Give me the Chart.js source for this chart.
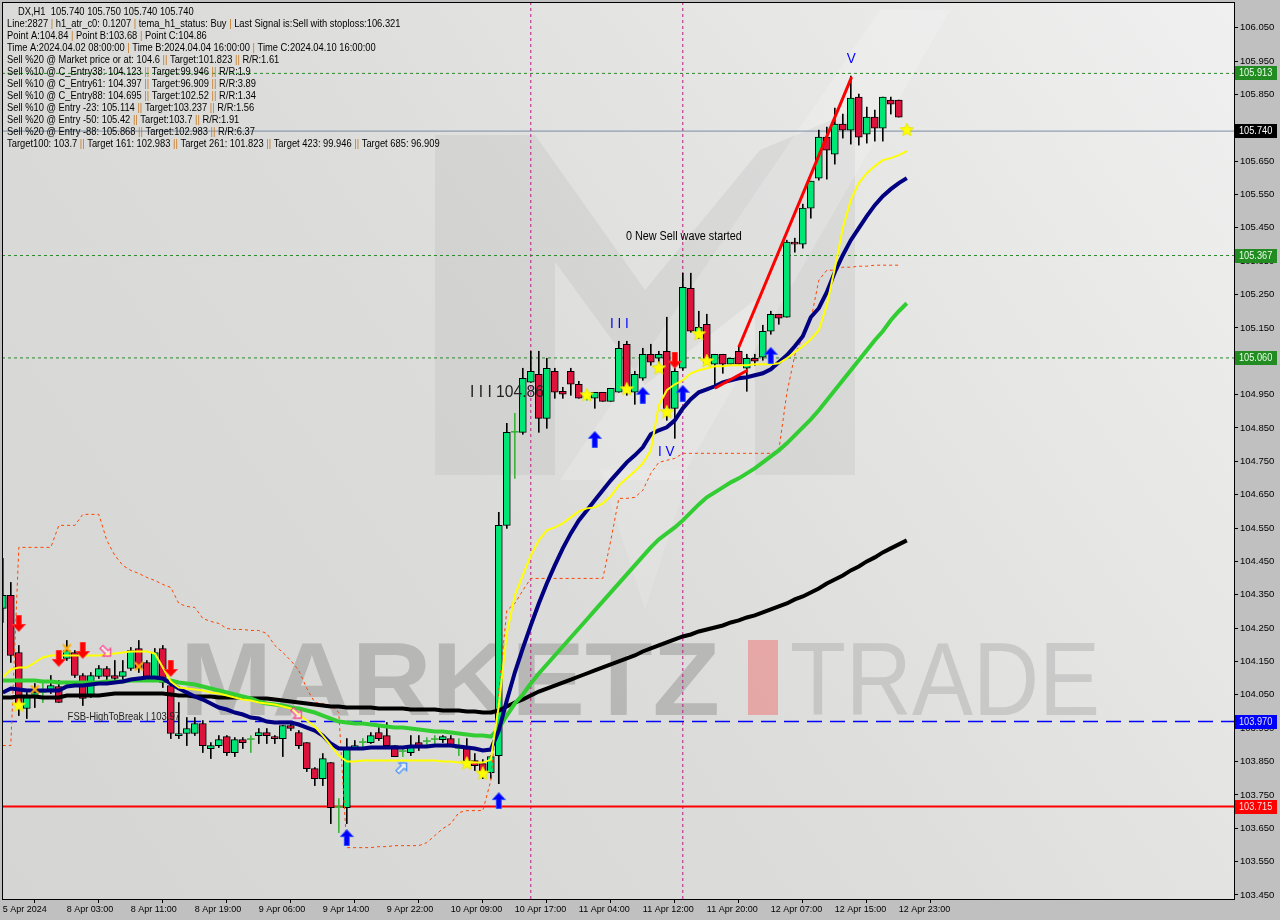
<!DOCTYPE html>
<html>
<head>
<meta charset="utf-8">
<title>DX,H1</title>
<script src="https://cdn.jsdelivr.net/npm/chart.js@4.4.1/dist/chart.umd.min.js"></script>
<style>
  html, body { margin: 0; padding: 0; background: #c0c0c0; }
  canvas { display: block; }
</style>
</head>
<body>
<canvas id="chart" width="1280" height="920"></canvas>
<script>
const FONT = "'Liberation Sans', Arial, sans-serif";

// time axis: one slot per H1 bar, labels every 8 bars
const timeTicks = [0, 8, 16, 24, 32, 40, 48, 56, 64, 72, 80, 88, 96, 104, 112];
const timeLabels = ['5 Apr 2024', '8 Apr 03:00', '8 Apr 11:00', '8 Apr 19:00', '9 Apr 06:00', '9 Apr 14:00',
  '9 Apr 22:00', '10 Apr 09:00', '10 Apr 17:00', '11 Apr 04:00', '11 Apr 12:00', '11 Apr 20:00',
  '12 Apr 07:00', '12 Apr 15:00', '12 Apr 23:00'];
const priceTicks = [103.45, 103.55, 103.65, 103.75, 103.85, 103.95, 104.05, 104.15, 104.25, 104.35, 104.45,
  104.55, 104.65, 104.75, 104.85, 104.95, 105.05, 105.15, 105.25, 105.35, 105.45, 105.55, 105.65, 105.75,
  105.85, 105.95, 106.05];

const opens = [104.309, 104.348, 104.177, 104.009, 104.048, 104.057, 104.066, 104.075, 104.159, 104.177,
  104.108, 104.048, 104.105, 104.129, 104.108, 104.105, 104.129, 104.189, 104.147, 104.102,
  104.189, 104.078, 103.928, 103.934, 103.934, 103.964, 103.889, 103.898, 103.925, 103.877,
  103.916, 103.916, 103.928, 103.937, 103.925, 103.919, 103.958, 103.937, 103.907, 103.829,
  103.799, 103.847, 103.712, 103.712, 103.892, 103.907, 103.907, 103.937, 103.928, 103.898,
  103.880, 103.877, 103.907, 103.910, 103.916, 103.916, 103.919, 103.889, 103.889, 103.853,
  103.844, 103.817, 103.868, 104.558, 104.837, 104.837, 104.987, 105.011, 104.879, 105.020,
  104.960, 105.020, 104.981, 104.942, 104.939, 104.957, 104.930, 104.957, 105.101, 104.957,
  104.999, 105.071, 105.059, 105.080, 104.909, 105.029, 105.269, 105.134, 105.161, 105.041,
  105.071, 105.041, 105.080, 105.029, 105.059, 105.062, 105.140, 105.191, 105.182, 105.407,
  105.401, 105.509, 105.599, 105.722, 105.671, 105.761, 105.743, 105.842, 105.731, 105.782,
  105.749, 105.833, 105.833, 105.740];
const highs = [104.459, 104.387, 104.198, 104.057, 104.084, 104.084, 104.108, 104.093, 104.213, 104.183,
  104.114, 104.117, 104.138, 104.135, 104.153, 104.153, 104.192, 104.213, 104.153, 104.189,
  104.198, 104.084, 104.027, 103.982, 103.982, 103.973, 103.907, 103.928, 103.928, 103.922,
  103.922, 103.928, 103.949, 103.949, 103.928, 103.958, 103.967, 103.943, 103.907, 103.832,
  103.874, 103.847, 103.739, 103.919, 103.913, 103.919, 103.937, 103.952, 103.967, 103.898,
  103.895, 103.928, 103.928, 103.922, 103.928, 103.928, 103.928, 103.919, 103.919, 103.874,
  103.856, 103.868, 104.597, 104.864, 104.894, 105.029, 105.080, 105.080, 105.059, 105.029,
  104.972, 105.029, 104.990, 104.948, 104.957, 104.957, 104.969, 105.110, 105.110, 105.020,
  105.089, 105.101, 105.080, 105.182, 105.029, 105.314, 105.314, 105.200, 105.191, 105.071,
  105.071, 105.059, 105.092, 105.071, 105.071, 105.158, 105.200, 105.191, 105.413, 105.419,
  105.521, 105.590, 105.743, 105.752, 105.809, 105.791, 105.905, 105.851, 105.812, 105.803,
  105.842, 105.842, 105.833, 105.750];
const lows = [104.267, 104.147, 103.988, 103.979, 104.012, 104.027, 104.054, 104.027, 104.153, 104.102,
  104.018, 104.042, 104.099, 104.093, 104.087, 104.093, 104.123, 104.117, 104.102, 104.093,
  104.072, 103.919, 103.919, 103.898, 103.928, 103.877, 103.859, 103.892, 103.868, 103.865,
  103.889, 103.877, 103.904, 103.904, 103.904, 103.865, 103.943, 103.889, 103.820, 103.778,
  103.778, 103.664, 103.637, 103.664, 103.889, 103.892, 103.904, 103.913, 103.892, 103.865,
  103.865, 103.868, 103.883, 103.898, 103.904, 103.907, 103.895, 103.868, 103.838, 103.823,
  103.799, 103.799, 103.784, 104.549, 104.699, 104.831, 104.987, 104.837, 104.849, 104.939,
  104.939, 104.948, 104.939, 104.933, 104.909, 104.930, 104.930, 104.957, 104.948, 104.921,
  104.993, 105.038, 105.029, 104.873, 104.819, 105.023, 105.137, 105.119, 105.044, 104.972,
  105.014, 105.041, 105.041, 104.960, 105.038, 105.053, 105.131, 105.161, 105.182, 105.377,
  105.389, 105.479, 105.593, 105.596, 105.641, 105.719, 105.701, 105.698, 105.704, 105.710,
  105.710, 105.791, 105.782, 105.740];
const closes = [104.348, 104.168, 104.018, 104.042, 104.057, 104.057, 104.078, 104.027, 104.183, 104.108,
  104.039, 104.108, 104.129, 104.105, 104.099, 104.120, 104.183, 104.129, 104.105, 104.177,
  104.087, 103.934, 103.934, 103.949, 103.964, 103.898, 103.898, 103.916, 103.877, 103.916,
  103.907, 103.916, 103.937, 103.928, 103.919, 103.958, 103.949, 103.898, 103.829, 103.799,
  103.859, 103.712, 103.712, 103.889, 103.898, 103.907, 103.928, 103.919, 103.898, 103.865,
  103.880, 103.895, 103.895, 103.910, 103.916, 103.925, 103.901, 103.889, 103.853, 103.838,
  103.820, 103.865, 104.558, 104.837, 104.837, 104.999, 105.020, 104.879, 105.029, 104.957,
  104.951, 104.981, 104.939, 104.942, 104.957, 104.930, 104.969, 105.089, 104.969, 105.011,
  105.071, 105.047, 105.071, 104.909, 105.020, 105.272, 105.140, 105.152, 105.044, 105.071,
  105.041, 105.059, 105.041, 105.059, 105.050, 105.140, 105.191, 105.179, 105.407, 105.401,
  105.509, 105.590, 105.722, 105.683, 105.761, 105.743, 105.839, 105.722, 105.782, 105.749,
  105.842, 105.821, 105.782, 105.740];

// moving averages / bands
const fastLine = [104.102, 104.126, 104.132, 104.132, 104.147, 104.162,
  104.168, 104.168, 104.168, 104.168, 104.168, 104.168, 104.168,
  104.171, 104.174, 104.177, 104.180, 104.180, 104.180,
  104.174, 104.132, 104.090, 104.072, 104.069, 104.066, 104.063, 104.057, 104.054, 104.048,
  104.042, 104.036, 104.033, 104.027, 104.024, 104.021, 104.015, 104.009, 103.991, 103.973,
  103.955, 103.928, 103.898, 103.868, 103.850, 103.850,
  103.853, 103.853, 103.853, 103.853, 103.853, 103.853, 103.853, 103.853, 103.853, 103.853,
  103.850, 103.850, 103.847, 103.847, 103.847, 103.847,
  103.856, 104.018, 104.234, 104.348, 104.408, 104.468, 104.513, 104.543, 104.552, 104.564,
  104.582, 104.600, 104.609, 104.612, 104.624, 104.645, 104.678, 104.699, 104.720, 104.744,
  104.783, 104.918, 104.963, 104.981, 104.993, 105.014, 105.023, 105.029,
  105.035, 105.035, 105.038, 105.038, 105.038, 105.041, 105.041, 105.041,
  105.044, 105.059, 105.077, 105.095, 105.116, 105.143, 105.218, 105.329, 105.449, 105.533,
  105.584, 105.614, 105.635, 105.653, 105.659, 105.668, 105.680];
const midLine = [104.057, 104.069, 104.066, 104.063, 104.063, 104.063, 104.063, 104.063,
  104.075, 104.078, 104.078, 104.081, 104.084, 104.084, 104.087, 104.090, 104.096, 104.099,
  104.102, 104.102, 104.099, 104.084, 104.069, 104.057, 104.045, 104.036, 104.024, 104.012,
  104.006, 103.997, 103.991, 103.982, 103.979, 103.970, 103.967, 103.967, 103.967,
  103.961, 103.952, 103.943, 103.928, 103.904, 103.889, 103.889, 103.889, 103.889,
  103.892, 103.892, 103.892, 103.892, 103.892, 103.895, 103.895, 103.895, 103.898, 103.898, 103.898,
  103.895, 103.892, 103.889, 103.883, 103.886, 103.943, 104.033, 104.117, 104.189, 104.258,
  104.324, 104.384, 104.438, 104.489, 104.534, 104.573, 104.603, 104.633, 104.663, 104.693,
  104.720, 104.747, 104.768, 104.792, 104.831, 104.843, 104.852, 104.873, 104.909, 104.936,
  104.957, 104.966, 104.975, 104.987, 104.993, 104.999, 105.002, 105.008, 105.014, 105.026,
  105.047, 105.068, 105.095, 105.125, 105.182, 105.209, 105.257, 105.317, 105.368, 105.413,
  105.449, 105.485, 105.518, 105.545, 105.566, 105.584, 105.599];
const slowLine = [104.093, 104.093, 104.093, 104.093, 104.093, 104.090, 104.090,
  104.087, 104.087, 104.087, 104.087, 104.087, 104.087, 104.090, 104.090, 104.090,
  104.093, 104.093, 104.093, 104.093, 104.093, 104.093,
  104.087, 104.084, 104.081, 104.075, 104.069, 104.063, 104.057, 104.051, 104.045, 104.039,
  104.030, 104.024, 104.021, 104.018, 104.012, 104.009, 104.003, 103.997, 103.988, 103.979,
  103.970, 103.967, 103.964, 103.964, 103.961, 103.958, 103.955, 103.952, 103.952,
  103.949, 103.946, 103.943, 103.940, 103.940, 103.937, 103.934, 103.931, 103.928, 103.928,
  103.925, 103.949, 103.988, 104.024, 104.051, 104.084, 104.114, 104.141, 104.168, 104.195,
  104.222, 104.249, 104.276, 104.303, 104.330, 104.357, 104.384, 104.411, 104.438, 104.465,
  104.492, 104.516, 104.534, 104.552, 104.573, 104.597, 104.621, 104.642, 104.657, 104.672,
  104.687, 104.699, 104.714, 104.729, 104.747, 104.765, 104.783, 104.804, 104.828, 104.852,
  104.876, 104.903, 104.933, 104.963, 104.993, 105.023, 105.053, 105.083, 105.113, 105.140,
  105.173, 105.200, 105.224];
const longLine = [104.042, 104.042, 104.045, 104.045, 104.045, 104.042, 104.042, 104.042,
  104.048, 104.048, 104.048, 104.048, 104.048, 104.051,
  104.054, 104.054, 104.054, 104.054, 104.054, 104.054, 104.054,
  104.051, 104.048, 104.048, 104.045, 104.045, 104.045, 104.042, 104.042, 104.042, 104.042,
  104.039, 104.039, 104.039, 104.036, 104.033, 104.030, 104.027, 104.024, 104.021, 104.018,
  104.015, 104.015, 104.012, 104.012, 104.012, 104.012, 104.009, 104.009, 104.009, 104.009,
  104.006, 104.006, 104.006, 104.006, 104.003, 104.003, 104.003, 104.000, 104.000, 103.997, 103.997,
  104.003, 104.015, 104.027, 104.036, 104.048, 104.060, 104.069, 104.078, 104.087, 104.096,
  104.105, 104.114, 104.123, 104.132, 104.141, 104.150, 104.159, 104.168, 104.180, 104.189,
  104.198, 104.207, 104.216, 104.225, 104.231, 104.240, 104.246, 104.252, 104.258, 104.267,
  104.273, 104.282, 104.288, 104.297, 104.306, 104.315, 104.324, 104.336, 104.345, 104.357,
  104.369, 104.384, 104.396, 104.408, 104.423, 104.435, 104.450, 104.462, 104.477, 104.489,
  104.501, 104.513];
const stopLine = [103.898, 103.898, 104.492, 104.492, 104.492, 104.492, 104.492,
  104.558, 104.558, 104.558, 104.591, 104.591, 104.591,
  104.513, 104.468, 104.438, 104.423, 104.414, 104.402, 104.393, 104.381, 104.372, 104.324,
  104.315, 104.312, 104.279, 104.270, 104.264, 104.249, 104.246, 104.246, 104.243, 104.243,
  104.234, 104.198, 104.177, 104.153, 104.123, 104.069, 104.027, 104.024, 104.018, 103.997,
  103.592, 103.592, 103.592, 103.592, 103.595, 103.595, 103.598, 103.598, 103.598, 103.598,
  103.607, 103.628, 103.649, 103.664, 103.697, 103.703, 103.703, 103.703,
  103.793, 104.063, 104.303, 104.324, 104.363,
  104.399, 104.399, 104.399, 104.399, 104.399, 104.399, 104.399, 104.399, 104.399, 104.399,
  104.513, 104.639, 104.639, 104.642, 104.663, 104.714, 104.747, 104.753, 104.759,
  104.774, 104.774, 104.774, 104.774, 104.774, 104.774, 104.774, 104.774, 104.774, 104.774, 104.774, 104.774,
  104.783, 104.954, 105.068, 105.122, 105.173, 105.293, 105.323, 105.323, 105.332, 105.332,
  105.335, 105.335, 105.338, 105.338, 105.338, 105.338, null];

// zigzag legs
const legStartIdx = [92, 89];
const legEndIdx = [106.1, 93.1];
const legStartPrice = [105.092, 104.969];
const legEndPrice = [105.902, 105.023];

// horizontal levels and session separators
const levelPrices = [105.913, 105.367, 105.060, 105.740, 103.970, 103.715];
const sessionIdx = [66, 85];

// signal markers
const buyIdx = [43, 62, 74, 80, 85, 96];
const buyPrice = [103.622, 103.733, 104.816, 104.948, 104.954, 105.068];
const sellIdx = [2, 7, 10, 21, 84];
const sellPrice = [104.264, 104.159, 104.183, 104.129, 105.053];
const starIdx = [2, 58, 60, 73, 78, 82, 83, 87, 88, 113];
const starPrice = [104.018, 103.844, 103.814, 104.948, 104.966, 105.029, 104.897, 105.131, 105.050, 105.743];
const crossIdx = [4, 8, 17];
const crossPrice = [104.066, 104.189, 104.135];
const hintDownIdx = [12.9, 36.75];
const hintDownPrice = [104.180, 103.994];
const hintUpIdx = [49.9];
const hintUpPrice = [103.832];

// text notes on the chart
const noteText = ['0 New Sell wave started', 'I I I 104.86', 'I I I', 'I V', 'V', 'FSB-HighToBreak | 103.97'];
const noteIdx = [77.9, 58.4, 75.9, 81.9, 105.5, 8.1];
const notePrice = [105.422, 104.957, 105.161, 104.777, 105.956, 103.985];

const headerLines = [
  'DX,H1  105.740 105.750 105.740 105.740',
  'Line:2827 | h1_atr_c0: 0.1207 | tema_h1_status: Buy | Last Signal is:Sell with stoploss:106.321',
  'Point A:104.84 | Point B:103.68 | Point C:104.86',
  'Time A:2024.04.02 08:00:00 | Time B:2024.04.04 16:00:00 | Time C:2024.04.10 16:00:00',
  'Sell %20 @ Market price or at: 104.6 || Target:101.823 || R/R:1.61',
  'Sell %10 @ C_Entry38: 104.123 || Target:99.946 || R/R:1.9',
  'Sell %10 @ C_Entry61: 104.397 || Target:96.909 || R/R:3.89',
  'Sell %10 @ C_Entry88: 104.695 || Target:102.52 || R/R:1.34',
  'Sell %10 @ Entry -23: 105.114 || Target:103.237 || R/R:1.56',
  'Sell %20 @ Entry -50: 105.42 || Target:103.7 || R/R:1.91',
  'Sell %20 @ Entry -88: 105.868 || Target:102.983 || R/R:6.37',
  'Target100: 103.7 || Target 161: 102.983 || Target 261: 101.823 || Target 423: 99.946 || Target 685: 96.909'
];

const X_MIN = -0.1, X_MAX = 153.9, Y_MIN = 103.438, Y_MAX = 106.127;
const BULL = '#00e676', BEAR = '#dc143c', DOJI = '#3cb43c';

const levelStyle = [
  { color: '#2a8a2a', width: 1, dash: [3, 3], tag: '#228b22', text: '#e8ffe8' },
  { color: '#2a8a2a', width: 1, dash: [3, 3], tag: '#228b22', text: '#e8ffe8' },
  { color: '#2a8a2a', width: 1, dash: [3, 3], tag: '#228b22', text: '#e8ffe8' },
  { color: '#7b8ba3', width: 1, dash: [], tag: '#000000', text: '#ffffff' },
  { color: '#0000ff', width: 1.5, dash: [15, 8], tag: '#0000ff', text: '#e0e0ff' },
  { color: '#ff0000', width: 2, dash: [], tag: '#ff0000', text: '#ffe0e0' }
];
const noteStyle = [
  { color: '#000', size: 12, sx: 0.9 }, { color: '#222', size: 17, sx: 0.92 }, { color: '#0000ff', size: 15, sx: 0.9 },
  { color: '#0000ff', size: 15, sx: 0.9 }, { color: '#0000ff', size: 15, sx: 0.9 }, { color: '#222', size: 11, sx: 0.86 }
];

const pts = arr => arr.map((v, i) => ({ x: i, y: v }));
const pairs = (xs, ys) => xs.map((x, i) => ({ x: x, y: ys[i] }));

function makeArrow(fill, edge, down) {
  const c = document.createElement('canvas');
  c.width = 14; c.height = 17;
  const g = c.getContext('2d');
  const shape = [[7, 0.5], [13.5, 7.5], [9.5, 7.5], [9.5, 16.5], [4.5, 16.5], [4.5, 7.5], [0.5, 7.5]];
  g.beginPath();
  shape.forEach(([x, y], k) => {
    const yy = down ? 17 - y : y;
    if (k) g.lineTo(x, yy); else g.moveTo(x, yy);
  });
  g.closePath();
  g.fillStyle = fill; g.fill();
  g.strokeStyle = edge; g.lineWidth = 1; g.stroke();
  return c;
}

function makeHollowArrow(edge) {
  const c = document.createElement('canvas');
  c.width = 16; c.height = 16;
  const g = c.getContext('2d');
  const shape = [[8, 1.5], [13.5, 7], [10, 7], [10, 14.5], [6, 14.5], [6, 7], [2.5, 7]];
  g.beginPath();
  shape.forEach(([x, y], k) => { if (k) g.lineTo(x, y); else g.moveTo(x, y); });
  g.closePath();
  g.fillStyle = 'rgba(255,255,255,0.5)'; g.fill();
  g.strokeStyle = edge; g.lineWidth = 1.2; g.stroke();
  return c;
}

function makeStar(r) {
  const c = document.createElement('canvas');
  c.width = c.height = 2 * r + 2;
  const g = c.getContext('2d');
  g.beginPath();
  for (let k = 0; k < 10; k++) {
    const rr = k % 2 ? r * 0.45 : r;
    const a = -Math.PI / 2 + k * Math.PI / 5;
    const x = r + 1 + rr * Math.cos(a), y = r + 1 + rr * Math.sin(a);
    if (k) g.lineTo(x, y); else g.moveTo(x, y);
  }
  g.closePath();
  g.fillStyle = '#ffff00'; g.fill();
  g.strokeStyle = '#e8e800'; g.stroke();
  return c;
}

function makeCross() {
  const c = document.createElement('canvas');
  c.width = c.height = 10;
  const g = c.getContext('2d');
  g.strokeStyle = '#ffb000'; g.lineWidth = 2;
  g.beginPath(); g.moveTo(1, 1); g.lineTo(9, 9); g.moveTo(9, 1); g.lineTo(1, 9); g.stroke();
  return c;
}

function poly(ctx, p) {
  ctx.beginPath();
  p.forEach(([x, y], k) => { if (k) ctx.lineTo(x, y); else ctx.moveTo(x, y); });
  ctx.closePath();
  ctx.fill();
}

function fitText(ctx, text, x, y, width) {
  const w = ctx.measureText(text).width;
  ctx.save();
  ctx.translate(x, y);
  ctx.scale(width / w, 1);
  ctx.fillText(text, 0, 0);
  ctx.restore();
}

// narrow text: squeeze horizontally like the terminal font
function squeezeText(ctx, text, x, y, sx) {
  ctx.save();
  ctx.translate(x, y);
  ctx.scale(sx, 1);
  ctx.fillText(text, 0, 0);
  ctx.restore();
  return ctx.measureText(text).width * sx;
}

function drawWatermark(ctx) {
  ctx.save();
  // big M logo
  ctx.fillStyle = 'rgba(150,150,150,0.14)';
  poly(ctx, [[435, 135], [535, 135], [645, 290], [645, 385], [555, 262], [555, 475], [435, 475]]);
  poly(ctx, [[755, 255], [855, 255], [855, 475], [755, 475]]);
  poly(ctx, [[645, 385], [645, 290], [760, 150], [855, 110], [855, 255], [755, 255], [755, 300]]);
  ctx.fillStyle = 'rgba(255,255,255,0.18)';
  poly(ctx, [[560, 480], [680, 480], [950, 10], [880, 10]]);
  ctx.fillStyle = 'rgba(255,255,255,0.12)';
  poly(ctx, [[600, 470], [690, 470], [645, 610]]);
  // MARKETZ TRADE
  ctx.textBaseline = 'alphabetic';
  ctx.font = "bold 104px 'Liberation Sans'";
  ctx.fillStyle = 'rgba(140,140,140,0.45)';
  fitText(ctx, 'MARKETZ', 180, 715, 540);
  ctx.fillStyle = 'rgba(235,130,130,0.6)';
  ctx.fillRect(748, 640, 30, 75);
  ctx.font = "104px 'Liberation Sans'";
  ctx.fillStyle = 'rgba(160,160,160,0.38)';
  fitText(ctx, 'TRADE', 790, 715, 310);
  ctx.restore();
}

function drawHeader(ctx) {
  ctx.save();
  ctx.font = `11px ${FONT}`;
  ctx.textBaseline = 'middle';
  ctx.textAlign = 'left';
  headerLines.forEach((line, k) => {
    let x = k === 0 ? 18 : 7;
    const y = 12 + k * 12;
    line.split(/(\|+)/).forEach(part => {
      ctx.fillStyle = part.startsWith('|') ? '#c8781e' : '#000';
      x += squeezeText(ctx, part, x, y, 0.85);
    });
  });
  ctx.restore();
}

const decor = {
  id: 'decor',
  beforeDraw(chart) {
    const { ctx, chartArea: a } = chart;
    ctx.save();
    ctx.fillStyle = '#c0c0c0';
    ctx.fillRect(0, 0, chart.width, chart.height);
    const grad = ctx.createLinearGradient(a.left, a.bottom, a.right, a.top);
    grad.addColorStop(0, '#d5d5d3');
    grad.addColorStop(0.45, '#dcdcda');
    grad.addColorStop(1, '#f0f0f0');
    ctx.fillStyle = grad;
    ctx.fillRect(a.left, a.top, a.right - a.left, a.bottom - a.top);
    ctx.restore();
  },
  beforeDatasetsDraw(chart) {
    drawWatermark(chart.ctx);
  },
  afterDatasetsDraw(chart) {
    const { ctx, chartArea: a, scales: { x, y } } = chart;
    ctx.save();
    ctx.textBaseline = 'middle';
    ctx.textAlign = 'left';
    noteText.forEach((t, k) => {
      ctx.font = `${noteStyle[k].size}px ${FONT}`;
      ctx.fillStyle = noteStyle[k].color;
      squeezeText(ctx, t, x.getPixelForValue(noteIdx[k]), y.getPixelForValue(notePrice[k]), noteStyle[k].sx);
    });
    // price tags on the right axis
    ctx.font = `10px ${FONT}`;
    levelPrices.forEach((p, k) => {
      const py = Math.round(y.getPixelForValue(p));
      ctx.fillStyle = levelStyle[k].tag;
      ctx.fillRect(a.right + 1, py - 7, 42, 14);
      ctx.fillStyle = levelStyle[k].text;
      squeezeText(ctx, p.toFixed(3), a.right + 5, py, 0.92);
    });
    // frame
    ctx.strokeStyle = '#000';
    ctx.lineWidth = 1;
    ctx.strokeRect(a.left + 0.5, a.top + 0.5, a.right - a.left, a.bottom - a.top);
    ctx.restore();
    drawHeader(ctx);
  }
};

const isDoji = i => opens[i] === closes[i];
const candleIdx = opens.map((_, i) => i);

const datasets = [];

// markers on top
datasets.push({ type: 'line', order: 0, showLine: false, pointStyle: makeArrow('#0000ff', '#3050ff', false), data: pairs(buyIdx, buyPrice) });
datasets.push({ type: 'line', order: 0, showLine: false, pointStyle: makeArrow('#ff0000', '#ff3030', true), data: pairs(sellIdx, sellPrice) });
datasets.push({ type: 'line', order: 0, showLine: false, pointStyle: makeStar(7), data: pairs(starIdx, starPrice) });
datasets.push({ type: 'line', order: 0, showLine: false, pointStyle: makeCross(), data: pairs(crossIdx, crossPrice) });
datasets.push({ type: 'line', order: 0, showLine: false, pointStyle: makeHollowArrow('#ff3c8c'), rotation: 135, data: pairs(hintDownIdx, hintDownPrice) });
datasets.push({ type: 'line', order: 0, showLine: false, pointStyle: makeHollowArrow('#3c8cff'), rotation: 45, data: pairs(hintUpIdx, hintUpPrice) });

// zigzag legs
legStartIdx.forEach((s, k) => {
  datasets.push({ type: 'line', order: 1, borderColor: '#ff0000', borderWidth: 3, pointRadius: 0,
    data: [{ x: s, y: legStartPrice[k] }, { x: legEndIdx[k], y: legEndPrice[k] }] });
});

// indicator lines
datasets.push({ type: 'line', order: 2, borderColor: '#ffff00', borderWidth: 2, pointRadius: 0, data: pts(fastLine) });
datasets.push({ type: 'line', order: 3, borderColor: '#000080', borderWidth: 4, pointRadius: 0, data: pts(midLine) });
datasets.push({ type: 'line', order: 4, borderColor: '#32cd32', borderWidth: 4, pointRadius: 0, data: pts(slowLine) });
datasets.push({ type: 'line', order: 5, borderColor: '#000000', borderWidth: 4, pointRadius: 0, data: pts(longLine) });
datasets.push({ type: 'line', order: 6, borderColor: '#ff4500', borderWidth: 1, borderDash: [3, 3], pointRadius: 0, spanGaps: false, data: pts(stopLine) });

// candles: bodies over wicks
datasets.push({
  type: 'bar', order: 7, grouped: false, barThickness: 7, minBarLength: 1, borderSkipped: false,
  data: candleIdx.map(i => ({ x: i, y: [opens[i], closes[i]] })),
  backgroundColor: candleIdx.map(i => closes[i] > opens[i] ? BULL : closes[i] < opens[i] ? BEAR : DOJI),
  borderColor: '#000',
  borderWidth: candleIdx.map(i => isDoji(i) ? 0 : 1)
});
datasets.push({
  type: 'bar', order: 8, grouped: false, barThickness: 1, borderWidth: 0,
  data: candleIdx.map(i => ({ x: i, y: [lows[i], highs[i]] })),
  backgroundColor: candleIdx.map(i => isDoji(i) ? DOJI : '#000')
});

// levels and separators behind everything
levelPrices.forEach((p, k) => {
  const s = levelStyle[k];
  datasets.push({ type: 'line', order: 9, borderColor: s.color, borderWidth: s.width, borderDash: s.dash, pointRadius: 0,
    data: [{ x: X_MIN, y: p }, { x: X_MAX, y: p }] });
});
sessionIdx.forEach(s => {
  datasets.push({ type: 'line', order: 10, borderColor: '#c0168c', borderWidth: 1, borderDash: [3, 3], pointRadius: 0,
    data: [{ x: s, y: Y_MIN }, { x: s, y: Y_MAX }] });
});

new Chart(document.getElementById('chart').getContext('2d'), {
  type: 'bar',
  data: { datasets: datasets },
  options: {
    responsive: false,
    animation: false,
    events: [],
    layout: { autoPadding: false, padding: { left: 2, top: 2, right: 0, bottom: 0 } },
    plugins: { legend: { display: false }, tooltip: { enabled: false } },
    scales: {
      x: {
        type: 'linear', min: X_MIN, max: X_MAX, offset: false, position: 'bottom',
        afterBuildTicks: s => { s.ticks = timeTicks.map(v => ({ value: v })); },
        afterFit: s => { s.height = 21; s.paddingLeft = 0; s.paddingRight = 0; },
        grid: { drawOnChartArea: false, drawTicks: true, tickLength: 4, color: '#000' },
        border: { color: '#000' },
        ticks: {
          autoSkip: false, maxRotation: 0, align: 'start', padding: 1, color: '#000',
          font: { family: FONT, size: 9 },
          callback: v => { const k = timeTicks.indexOf(v); return k < 0 ? '' : timeLabels[k]; }
        }
      },
      y: {
        type: 'linear', position: 'right', min: Y_MIN, max: Y_MAX,
        afterBuildTicks: s => { s.ticks = priceTicks.map(v => ({ value: v })); },
        afterFit: s => { s.width = 46; s.paddingTop = 0; s.paddingBottom = 0; },
        grid: { drawOnChartArea: false, drawTicks: true, tickLength: 4, color: '#000' },
        border: { color: '#000' },
        ticks: {
          autoSkip: false, padding: 2, color: '#000',
          font: { family: FONT, size: 9.5 },
          callback: v => v.toFixed(3)
        }
      }
    }
  },
  plugins: [decor]
});
</script>
</body>
</html>
